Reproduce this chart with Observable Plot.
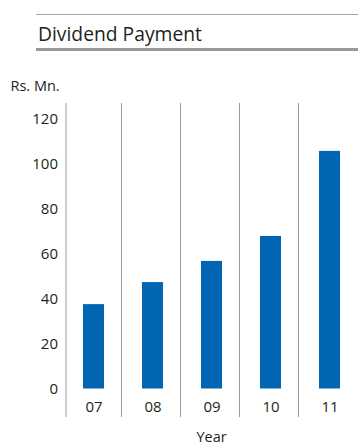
<!DOCTYPE html>
<html>
<head>
<meta charset="utf-8">
<script src="https://cdn.jsdelivr.net/npm/d3@7"></script>
<script src="https://cdn.jsdelivr.net/npm/@observablehq/plot@0.6"></script>
<style>
  html, body { margin: 0; padding: 0; background: #fff; }
  body { width: 358px; height: 445px; overflow: hidden; font-family: "Open Sans", sans-serif; color: #231f20; }
  .header { position: relative; width: 358px; height: 60px; }
  .rule-thin { position: absolute; left: 36px; right: 0; top: 14px; height: 1px; background: #a8a8a8; }
  .rule-thick { position: absolute; left: 36px; right: 0; top: 48px; height: 3px; background: #999; }
  .title { position: absolute; left: 38px; top: 23.5px; font-size: 19.3px; line-height: 19px; white-space: nowrap; }
  #chart svg { display: block; }
</style>
</head>
<body>
<div class="header">
  <div class="rule-thin"></div>
  <div class="title">Dividend Payment</div>
  <div class="rule-thick"></div>
</div>
<div id="chart"></div>
<script>
// Dividend payment by financial year, Rs. Mn.
const years = ["07", "08", "09", "10", "11"];
const payments = [37.5, 47.3, 56.7, 67.8, 105.6];
const yTicks = [0, 20, 40, 60, 80, 100, 120];

const data = years.map((year, i) => ({year, value: payments[i]}));

const ink = "#231f20";
const grid = "#9a9a9a";

const chart = Plot.plot({
  width: 358,
  height: 385,
  marginTop: 58.5,
  marginBottom: 56.5,
  marginLeft: 64,
  marginRight: 0,
  style: {fontFamily: "Open Sans, sans-serif", fontSize: "15px", color: ink, background: "#fff", overflow: "visible"},
  x: {domain: years, range: [64, 359], paddingInner: 0.644, paddingOuter: 0.322, axis: null},
  y: {domain: [0, 120], axis: null},
  marks: [
    // left axis line
    Plot.ruleX([years[0]], {x: d => d, dx: -28, stroke: grid, insetTop: -15.5, insetBottom: -28.5}),
    // separators between years
    Plot.ruleX(years.slice(1), {x: d => d, dx: -31.5, stroke: grid, insetTop: -15.5, insetBottom: -28.5}),
    Plot.barY(data, {x: "year", y: "value", fill: "#0066b3"}),
    Plot.axisY({ticks: yTicks, tickSize: 0, tickPadding: 6.5, label: null, fontSize: 15}),
    Plot.axisX({tickSize: 0, tickPadding: 12.5, label: null, fontSize: 15}),
    Plot.text(["Rs. Mn."], {frameAnchor: "top-left", dx: -54, dy: -32.5, textAnchor: "start", lineAnchor: "middle", fontSize: 14.5, fill: ink}),
    Plot.text(["Year"], {frameAnchor: "bottom", dy: 48.5, lineAnchor: "middle", fontSize: 14.5, fill: ink})
  ]
});

document.getElementById("chart").appendChild(chart);
</script>
</body>
</html>
